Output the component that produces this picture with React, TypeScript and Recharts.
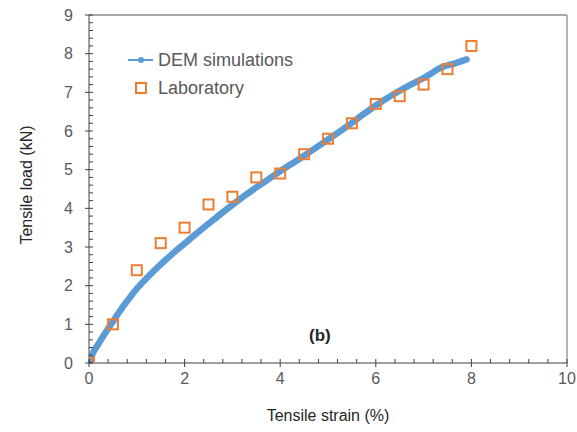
import React from 'react';
import {
  ComposedChart,
  Line,
  Scatter,
  XAxis,
  YAxis,
  ReferenceLine,
  ReferenceDot,
  Label,
} from 'recharts';

// DEM simulation curve (strain %, load kN)
const demStrain = [0, 0.05, 0.1, 0.2, 0.3, 0.4, 0.5, 0.6, 0.7, 0.85, 1, 1.25, 1.5, 1.75, 2, 2.25, 2.5, 2.75, 3, 3.25, 3.5, 3.75, 4, 4.25, 4.5, 4.75, 5, 5.25, 5.5, 5.75, 6, 6.25, 6.5, 6.75, 7, 7.15, 7.3, 7.45, 7.6, 7.75, 7.9];
const demLoad = [0, 0.16, 0.3, 0.5, 0.7, 0.89, 1.07, 1.26, 1.44, 1.69, 1.92, 2.25, 2.55, 2.83, 3.09, 3.35, 3.6, 3.85, 4.09, 4.32, 4.54, 4.75, 4.96, 5.16, 5.36, 5.57, 5.78, 5.99, 6.21, 6.44, 6.66, 6.86, 7.04, 7.21, 7.37, 7.48, 7.6, 7.68, 7.73, 7.79, 7.85];

// Laboratory measurements
const labStrain = [0, 0.5, 1, 1.5, 2, 2.5, 3, 3.5, 4, 4.5, 5, 5.5, 6, 6.5, 7, 7.5, 8];
const labLoad = [0, 1.0, 2.4, 3.1, 3.5, 4.1, 4.3, 4.8, 4.9, 5.4, 5.8, 6.2, 6.7, 6.9, 7.2, 7.6, 8.2];

// Axis ticks
const xMajorTicks = [0, 2, 4, 6, 8, 10];
const yMajorTicks = [0, 1, 2, 3, 4, 5, 6, 7, 8, 9];
const xMinorStep = 0.4;
const yMinorStep = 0.2;

const xTicks = Array.from({ length: Math.round(10 / xMinorStep) + 1 }, (_, i) => +(i * xMinorStep).toFixed(2));
const yTicks = Array.from({ length: Math.round(9 / yMinorStep) + 1 }, (_, i) => +(i * yMinorStep).toFixed(2));

const demData = demStrain.map((x, i) => ({ x, y: demLoad[i] }));
const labData = labStrain.map((x, i) => ({ x, y: labLoad[i] }));

const FONT = '"Liberation Sans", Arial, sans-serif';
const BLUE = '#5b9bd5';
const ORANGE = '#ed7d31';
const AXIS = '#404040';
const TICK_TEXT = '#595959';

const isMajor = (v: number, majors: number[]) => majors.some((m) => Math.abs(m - v) < 1e-6);

const XTick = (props: any) => {
  const { x, y, payload } = props;
  const v = payload.value;
  const major = isMajor(v, xMajorTicks);
  return (
    <g>
      <line x1={x} x2={x} y1={y - 4} y2={major ? y + 4 : y} stroke={AXIS} strokeWidth={1} />
      {major && (
        <text x={x} y={y + 21} textAnchor="middle" fontSize={16} fill={TICK_TEXT} fontFamily={FONT}>
          {v}
        </text>
      )}
    </g>
  );
};

const YTick = (props: any) => {
  const { x, y, payload } = props;
  const v = payload.value;
  const major = isMajor(v, yMajorTicks);
  return (
    <g>
      <line x1={major ? x - 4 : x} x2={x + 4} y1={y} y2={y} stroke={AXIS} strokeWidth={1} />
      {major && (
        <text x={x - 16} y={y} dy="0.36em" textAnchor="end" fontSize={16} fill={TICK_TEXT} fontFamily={FONT}>
          {v}
        </text>
      )}
    </g>
  );
};

const SquareShape = (props: any) => {
  const { cx, cy } = props;
  if (cx == null || cy == null) return null;
  return <rect x={cx - 5} y={cy - 5} width={10} height={10} fill="none" stroke={ORANGE} strokeWidth={2} />;
};

const LegendOverlay = () => (
  <svg width={200} height={60} style={{ position: 'absolute', left: 125, top: 46, overflow: 'visible' }}>
    <line x1={3} x2={28} y1={14} y2={14} stroke={BLUE} strokeWidth={2} />
    <circle cx={16} cy={14} r={3} fill={BLUE} />
    <text x={33} y={14} dy="0.36em" fontSize={18} fill={TICK_TEXT} fontFamily={FONT}>
      DEM simulations
    </text>
    <rect x={11} y={37} width={10} height={10} fill="none" stroke={ORANGE} strokeWidth={2} />
    <text x={33} y={42} dy="0.36em" fontSize={18} fill={TICK_TEXT} fontFamily={FONT}>
      Laboratory
    </text>
  </svg>
);

const YTitle = (props: any) => {
  const { viewBox } = props;
  const cx = viewBox.x + 26;
  const cy = viewBox.y + viewBox.height / 2 - 4;
  return (
    <text x={cx} y={cy} transform={`rotate(-90, ${cx}, ${cy})`} textAnchor="middle" dy="0.36em" fontSize={16} fill="#262626" fontFamily={FONT}>
      Tensile load (kN)
    </text>
  );
};

const XTitle = (props: any) => {
  const { viewBox } = props;
  const cx = viewBox.x + viewBox.width / 2;
  const cy = viewBox.y + 52;
  return (
    <text x={cx} y={cy} textAnchor="middle" dy="0.36em" fontSize={16} fill="#262626" fontFamily={FONT}>
      Tensile strain (%)
    </text>
  );
};

export default function App() {
  return (
    <div style={{ position: 'absolute', left: 0, top: 0, width: 577, height: 432, background: '#fff' }}>
      <ComposedChart width={577} height={432} margin={{ top: 15, right: 10, bottom: 0, left: 0 }}>
        <XAxis
          dataKey="x"
          type="number"
          domain={[0, 10]}
          ticks={xTicks}
          interval={0}
          tickLine={false}
          tickSize={0}
          tickMargin={0}
          tick={<XTick />}
          height={69}
          axisLine={{ stroke: AXIS, strokeWidth: 1 }}
          allowDataOverflow
        >
          <Label content={<XTitle />} />
        </XAxis>
        <YAxis
          dataKey="y"
          type="number"
          domain={[0, 9]}
          ticks={yTicks}
          interval={0}
          tickLine={false}
          tickSize={0}
          tickMargin={0}
          tick={<YTick />}
          width={89}
          axisLine={{ stroke: AXIS, strokeWidth: 1 }}
          allowDataOverflow
        >
          <Label content={<YTitle />} />
        </YAxis>
        <ReferenceLine y={9} stroke="#8c8c8c" strokeWidth={1.3} />
        <ReferenceLine x={10} stroke="#8c8c8c" strokeWidth={1.3} />
        <Line
          data={demData}
          dataKey="y"
          type="monotone"
          stroke={BLUE}
          strokeWidth={6.5}
          strokeLinecap="round"
          strokeLinejoin="round"
          dot={false}
          activeDot={false}
          isAnimationActive={false}
          legendType="none"
        />
        <Scatter data={labData} dataKey="y" shape={<SquareShape />} isAnimationActive={false} legendType="none" />
        <ReferenceDot
          x={4.83}
          y={0.72}
          r={0}
          fill="none"
          stroke="none"
          label={{ value: '(b)', position: 'center', fontSize: 17, fontWeight: 'bold', fill: '#262626', fontFamily: FONT }}
        />
      </ComposedChart>
      <LegendOverlay />
    </div>
  );
}
